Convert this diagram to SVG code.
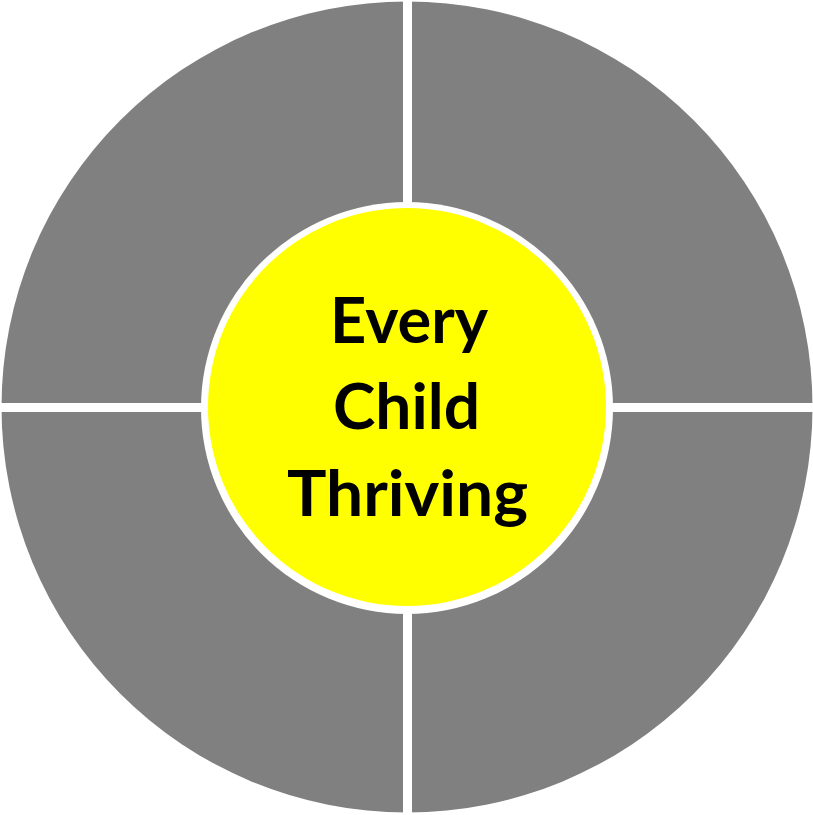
<svg xmlns="http://www.w3.org/2000/svg" width="813" height="815" viewBox="0 0 813 815">
<style>
.q{fill:#808080}
.gap{stroke:#fff;stroke-width:9}
.t{font-family:Lato,"Open Sans","Liberation Sans",sans-serif;font-weight:bold;font-size:64px;fill:#000;text-anchor:middle}
</style>
<rect width="813" height="815" fill="#fff"/>
<g id="ring">
<circle class="q" cx="407" cy="407" r="405.5"/>
</g>
<g id="connectors">
<line class="gap" x1="407.5" y1="0" x2="407.5" y2="815"/>
<line class="gap" x1="0" y1="407.5" x2="813" y2="407.5"/>
</g>
<g id="center">
<circle cx="407" cy="408" r="206" fill="#fff"/>
<circle cx="407" cy="407" r="199" fill="#ffff00"/>
<text class="t" x="409" y="343" textLength="158" lengthAdjust="spacingAndGlyphs">Every</text>
<text class="t" x="406.5" y="429" textLength="147" lengthAdjust="spacingAndGlyphs">Child</text>
<text class="t" x="407.5" y="516" textLength="241" lengthAdjust="spacingAndGlyphs">Thriving</text>
</g>
</svg>
